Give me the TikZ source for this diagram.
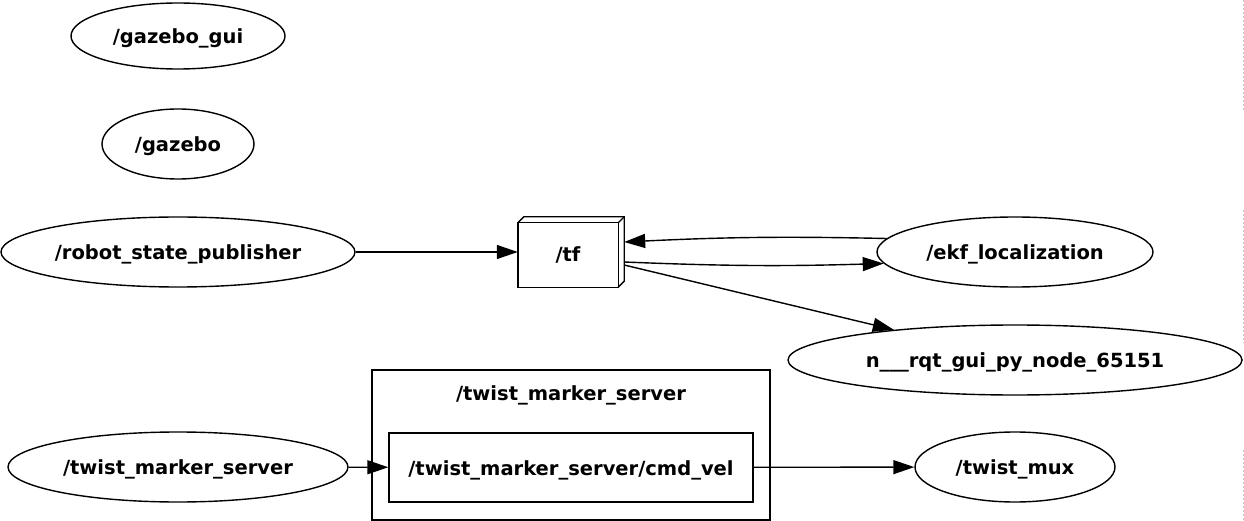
\documentclass[tikz,border=0pt]{standalone}
\usepackage{fontspec}
\setmainfont{DejaVu Sans}
\usetikzlibrary{shapes.geometric,arrows.meta}
\newcommand{\lbl}[1]{\makebox[0pt]{\raisebox{-2.5pt}[\height][\depth]{#1}}}
\begin{document}
\begin{tikzpicture}[x=1pt,y=-1pt,
  every node/.style={font=\fontsize{19.5}{22}\selectfont\bfseries},
  topic/.style={ellipse,draw,line width=1.4pt,inner sep=0pt},
  box/.style={rectangle,draw,line width=1.4pt,inner sep=0pt},
  arr/.style={line width=1.4pt,-{Triangle[length=21pt,width=14pt]}}]
\useasboundingbox (0,0) rectangle (1244,521);
\node[topic,minimum width=214pt,minimum height=66pt] (gui) at (178,36) {\lbl{/gazebo\_gui}};
\node[topic,minimum width=152pt,minimum height=70pt] (gz) at (178,144) {\lbl{/gazebo}};
\node[topic,minimum width=354pt,minimum height=70pt] (rsp) at (178,252) {\lbl{/robot\_state\_publisher}};
\node[topic,minimum width=276pt,minimum height=70pt] (ekf) at (1015,252) {\lbl{/ekf\_localization}};
\node[topic,minimum width=454pt,minimum height=70pt] (rqt) at (1015,360) {\lbl{n\_\_\_rqt\_gui\_py\_node\_65151}};
\node[topic,minimum width=340pt,minimum height=70pt] (tms) at (178,467) {\lbl{/twist\_marker\_server}};
\node[topic,minimum width=200pt,minimum height=70pt] (mux) at (1015,467) {\lbl{/twist\_mux}};
% tf 3D box
\node[inner sep=0pt,minimum width=106pt,minimum height=70pt] (tf) at (571,252) {};
\draw[line width=1.4pt] (tf.south west) rectangle ([xshift=-6pt,yshift=-6pt]tf.north east);
\draw[line width=1.4pt] ([yshift=-6pt]tf.north west) -- ([xshift=6pt]tf.north west) -- (tf.north east) -- ([yshift=6pt]tf.south east) -- ([xshift=-6pt]tf.south east);
\draw[line width=1.4pt] ([xshift=-6pt,yshift=-6pt]tf.north east) -- (tf.north east);
\node (tflabel) at (568,252) {\lbl{/tf}};
% cluster
\node[box,minimum width=398pt,minimum height=150pt] (cl) at (571,445) {};
\node (cllabel) at (571,393) {\lbl{/twist\_marker\_server}};
\node[box,minimum width=364pt,minimum height=69pt] (cmd) at (571,467.5) {\lbl{/twist\_marker\_server/cmd\_vel}};
% edges
\draw[arr] (rsp) -- (rsp -| tf.west);
\draw[arr] (ekf.174.7) to[bend right=2] ([yshift=10pt]tf.east);
\draw[arr] ([yshift=-10pt]tf.east) to[bend right=2] (ekf.185.3);
\draw[arr] ([yshift=-13pt]tf.east) -- (rqt.166);
\draw[arr] (tms) -- (cmd);
\draw[arr] (cmd) -- (mux);
% faint border artefact
\draw[black!22,line width=0.8pt,dash pattern=on 2pt off 2pt] (1243,0) -- (1243,110) (1243,210) -- (1243,343) (1243,450) -- (1243,521);
\end{tikzpicture}
\end{document}
